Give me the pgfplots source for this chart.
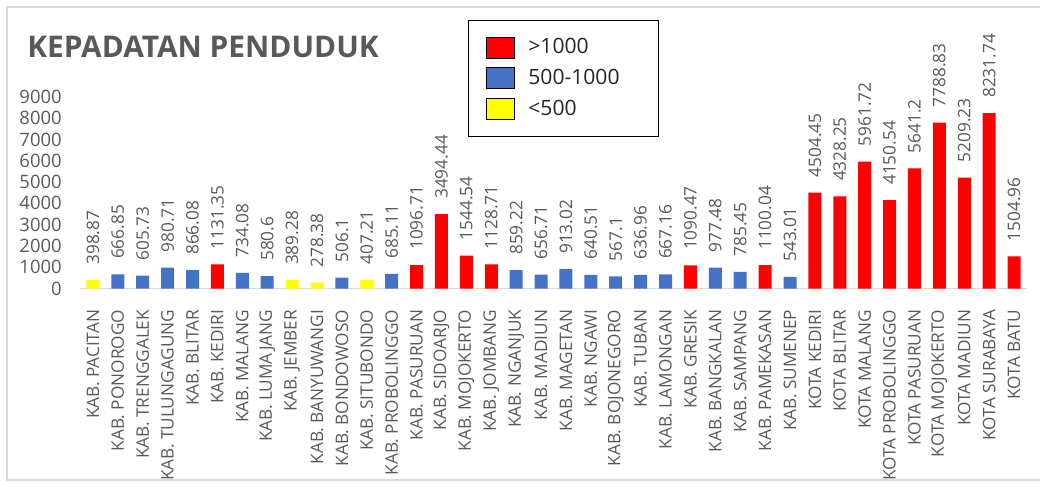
\documentclass[border=0pt]{standalone}
\usepackage{fontspec}
\setmainfont{Open Sans}
\usepackage{pgfplots}
\usepackage{pgfplotstable}
\pgfplotsset{compat=1.18}

\definecolor{barred}{HTML}{FF0000}
\definecolor{barblue}{HTML}{4472C4}
\definecolor{baryellow}{HTML}{FFFF00}
\definecolor{txtgray}{HTML}{595959}
\definecolor{framegray}{HTML}{D9D9D9}

% density > 1000
\pgfplotstableread{
x y lab
5 1131.35 1131.35
13 1096.71 1096.71
14 3494.44 3494.44
15 1544.54 1544.54
16 1128.71 1128.71
24 1090.47 1090.47
27 1100.04 1100.04
29 4504.45 4504.45
30 4328.25 4328.25
31 5961.72 5961.72
32 4150.54 4150.54
33 5641.2 5641.2
34 7788.83 7788.83
35 5209.23 5209.23
36 8231.74 8231.74
37 1504.96 1504.96
}\highdata

% density 500-1000
\pgfplotstableread{
x y lab
1 666.85 666.85
2 605.73 605.73
3 980.71 980.71
4 866.08 866.08
6 734.08 734.08
7 580.6 580.6
10 506.1 506.1
12 685.11 685.11
17 859.22 859.22
18 656.71 656.71
19 913.02 913.02
20 640.51 640.51
21 567.1 567.1
22 636.96 636.96
23 667.16 667.16
25 977.48 977.48
26 785.45 785.45
28 543.01 543.01
}\middata

% density < 500
\pgfplotstableread{
x y lab
0 398.87 398.87
8 389.28 389.28
9 278.38 278.38
11 407.21 407.21
}\lowdata

\begin{document}
\begin{tikzpicture}
\path[use as bounding box] (0,0) rectangle (208mm,97.2mm);
\draw[framegray, line width=0.25mm] (208mm,95.8mm) -- (1.4mm,95.8mm) -- (1.4mm,1.2mm) -- (208mm,1.2mm);

\node[anchor=base west, inner sep=0pt, text=txtgray,
      font=\fontsize{17}{20}\selectfont\bfseries] at (5.4mm,85.6mm) {KEPADATAN PENDUDUK};

\begin{axis}[
  at={(16.1mm,39.5mm)}, anchor=south west,
  scale only axis, width=189.2mm, height=38.34mm,
  xmin=-0.5, xmax=37.5, ymin=0, ymax=9000,
  clip=false,
  ybar, bar width=2.6mm,
  axis lines*=left,
  y axis line style={draw=none},
  x axis line style={draw=black!15, line width=0.8pt, -},
  tick style={draw=none},
  ytick={0,1000,...,9000},
  scaled y ticks=false,
  xtick={0,...,37},
  xticklabels={KAB. PACITAN,KAB. PONOROGO,KAB. TRENGGALEK,KAB. TULUNGAGUNG,KAB. BLITAR,KAB. KEDIRI,KAB. MALANG,KAB. LUMAJANG,KAB. JEMBER,KAB. BANYUWANGI,KAB. BONDOWOSO,KAB. SITUBONDO,KAB. PROBOLINGGO,KAB. PASURUAN,KAB. SIDOARJO,KAB. MOJOKERTO,KAB. JOMBANG,KAB. NGANJUK,KAB. MADIUN,KAB. MAGETAN,KAB. NGAWI,KAB. BOJONEGORO,KAB. TUBAN,KAB. LAMONGAN,KAB. GRESIK,KAB. BANGKALAN,KAB. SAMPANG,KAB. PAMEKASAN,KAB. SUMENEP,KOTA KEDIRI,KOTA BLITAR,KOTA MALANG,KOTA PROBOLINGGO,KOTA PASURUAN,KOTA MOJOKERTO,KOTA MADIUN,KOTA SURABAYA,KOTA BATU},
  /pgf/number format/1000 sep={},
  /pgf/number format/assume math mode=true,
  yticklabel style={font=\fontsize{10.5}{12}\selectfont, text=txtgray, inner xsep=0pt, xshift=-3.7mm},
  xticklabel style={font=\fontsize{9.8}{11}\selectfont, text=txtgray, rotate=90, anchor=east, inner xsep=2.7mm, inner ysep=0pt},
  nodes near coords,
  point meta=explicit symbolic,
  every node near coord/.append style={rotate=90, anchor=west, font=\fontsize{9.8}{11}\selectfont, text=txtgray, inner xsep=3.0mm, inner ysep=0pt},
  sq legend/.style={legend image code/.code={\draw[##1, draw=black, line width=0.5pt] (0mm,-2.1mm) rectangle (5.6mm,2.1mm);}},
  legend style={at={(0.4096,1.4006)}, anchor=north west, draw=black, line width=0.6pt, fill=white,
    inner xsep=3.4mm, inner ysep=3.2mm, row sep=1.8mm, font=\fontsize{12}{14}\selectfont, text=black!85,
    nodes={inner sep=0pt}},
  legend cell align=left,
]
\addplot[fill=barred, draw=none, bar shift=0pt, sq legend] table[x=x, y=y, meta=lab] {\highdata};
\addlegendentry{\hspace*{2.8mm}\makebox[22.6mm][l]{>1000}}
\addplot[fill=barblue, draw=none, bar shift=0pt, sq legend] table[x=x, y=y, meta=lab] {\middata};
\addlegendentry{\hspace*{2.8mm}\makebox[22.6mm][l]{500-1000}}
\addplot[fill=baryellow, draw=none, bar shift=0pt, sq legend] table[x=x, y=y, meta=lab] {\lowdata};
\addlegendentry{\hspace*{2.8mm}\makebox[22.6mm][l]{<500}}
\end{axis}
\end{tikzpicture}
\end{document}
